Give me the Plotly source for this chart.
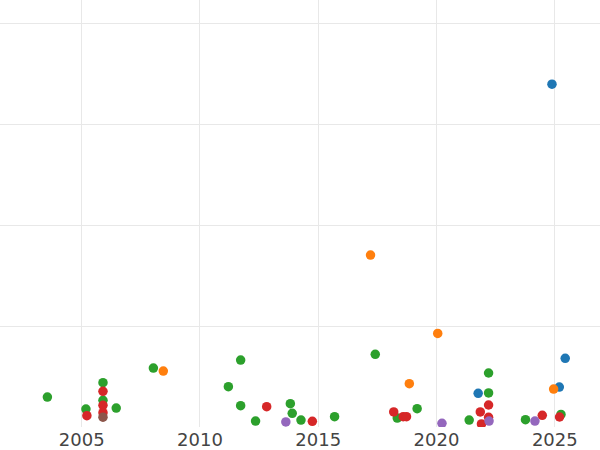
import plotly.graph_objects as go

# Series values (x = year, y = value)
blue_x = [2024.88, 2025.44, 2025.19, 2021.76]
blue_y = [33.96, 6.80, 3.96, 3.34]

orange_x = [2008.45, 2017.21, 2020.05, 2018.85, 2024.95]
orange_y = [5.54, 17.03, 9.27, 4.29, 3.76]

green_x = [2003.55, 2005.18, 2005.90, 2005.90, 2006.46, 2008.03, 2011.20, 2011.72, 2011.72,
           2012.35, 2013.82, 2013.90, 2014.27, 2015.69, 2017.41, 2018.34, 2019.18, 2021.38,
           2022.20, 2022.20, 2023.76, 2025.26]
green_y = [2.97, 1.78, 4.39, 2.64, 1.88, 5.84, 3.99, 6.63, 2.11,
           0.59, 2.31, 1.36, 0.69, 1.02, 7.20, 0.89, 1.81, 0.69,
           5.35, 3.37, 0.73, 1.25]

red_x = [2005.22, 2005.90, 2005.90, 2005.90, 2012.82, 2014.75, 2018.19, 2018.59, 2018.73,
         2021.85, 2022.20, 2022.20, 2021.90, 2024.47, 2025.20]
red_y = [1.12, 3.53, 2.15, 1.42, 2.01, 0.56, 1.49, 1.02, 1.02,
         1.49, 2.18, 0.96, 0.30, 1.16, 0.99]

purple_x = [2013.63, 2020.23, 2022.22, 2024.16]
purple_y = [0.50, 0.37, 0.59, 0.59]

brown_x = [2005.90]
brown_y = [0.97]

tick_vals = [2005, 2010, 2015, 2020, 2025]
tick_text = ["2005", "2010", "2015", "2020", "2025"]

series = [
    (blue_x, blue_y, "#1f77b4"),
    (orange_x, orange_y, "#ff7f0e"),
    (green_x, green_y, "#2ca02c"),
    (red_x, red_y, "#d62728"),
    (purple_x, purple_y, "#9467bd"),
    (brown_x, brown_y, "#8c564b"),
]

fig = go.Figure()
for xs, ys, c in series:
    fig.add_trace(go.Scatter(x=xs, y=ys, mode="markers",
                             marker=dict(color=c, size=9.5, line=dict(width=0)),
                             showlegend=False))

fig.update_layout(
    width=600, height=450,
    margin=dict(l=0, r=0, t=0, b=23),
    paper_bgcolor="white", plot_bgcolor="white",
    font=dict(family="DejaVu Sans", color="#444444"),
    xaxis=dict(range=[2001.547, 2026.91], tickvals=tick_vals, ticktext=tick_text,
               showgrid=True, gridcolor="#e8e8e8", gridwidth=1, zeroline=False,
               showline=False, ticks="", tickfont=dict(size=18)),
    yaxis=dict(range=[0, 42.3], dtick=10, showgrid=True, gridcolor="#e8e8e8",
               gridwidth=1, zeroline=False, showticklabels=False, ticks=""),
)

fig.write_html("out.html", config={"displayModeBar": False},
               post_script="document.body.style.margin='0';")
